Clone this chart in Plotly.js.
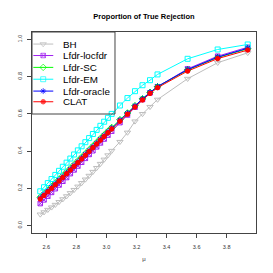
<!DOCTYPE html>
<html>
<head>
<meta charset="utf-8">
<script src="https://cdn.plot.ly/plotly-3.0.1.min.js"></script>
<style>html,body{margin:0;padding:0;background:#fff;}#chart{width:273px;height:273px;}</style>
</head>
<body>
<div id="chart"></div>
<script>
// mu values (x axis)
var mu = [2.56,2.585,2.61,2.635,2.66,2.685,2.71,2.735,2.76,2.785,2.81,2.835,2.86,2.885,2.91,2.935,2.96,2.985,3.01,3.035,3.09,3.14,3.19,3.24,3.29,3.34,3.54,3.74,3.94];
// proportion of true rejection per method
var BH      = [.060,.072,.085,.098,.112,.127,.142,.158,.175,.192,.210,.229,.248,.268,.289,.310,.332,.355,.378,.402,.450,.500,.560,.600,.638,.677,.789,.875,.928];
var LOCFDR  = [.118,.138,.158,.178,.198,.218,.238,.258,.279,.299,.320,.340,.361,.382,.402,.423,.444,.465,.486,.507,.553,.594,.636,.677,.713,.746,.842,.910,.958];
var SC      = [.152,.171,.190,.209,.228,.248,.267,.287,.307,.327,.347,.367,.387,.407,.427,.447,.468,.487,.507,.527,.569,.605,.644,.681,.716,.746,.836,.903,.950];
var EM      = [.184,.206,.228,.250,.272,.294,.316,.338,.360,.382,.404,.426,.448,.470,.492,.514,.536,.558,.579,.600,.645,.685,.722,.754,.781,.812,.896,.946,.973];
var ORACLE  = [.148,.167,.186,.205,.224,.244,.263,.283,.303,.323,.343,.363,.383,.403,.423,.443,.464,.484,.504,.524,.567,.604,.643,.681,.716,.747,.838,.905,.953];
var CLAT    = [.143,.162,.181,.200,.219,.239,.258,.278,.298,.318,.338,.358,.378,.398,.418,.438,.459,.479,.499,.519,.561,.598,.637,.675,.710,.741,.830,.897,.943];

var names = ["BH","Lfdr-locfdr","Lfdr-SC","Lfdr-EM","Lfdr-oracle","CLAT"];
var values = [BH, LOCFDR, SC, EM, ORACLE, CLAT];
var colors = ["#BEBEBE","#A020F0","#00FF00","#00FFFF","#0000FF","#FF0000"];
var symbols = ["triangle-down-open","square-x-open","diamond-open","square-open","asterisk-open","circle"];
var sizes = [5.5,4.5,5,5,5,4.5];
var xTicks = [2.6,2.8,3.0,3.2,3.4,3.6,3.8];
var yTicks = [0,0.2,0.4,0.6,0.8,1.0];

var FONT = "Liberation Sans, Arial, Helvetica, sans-serif";
var traces = [];
for (var i = 0; i < names.length; i++) {
  traces.push({
    x: mu, y: values[i], name: names[i], type: "scatter", mode: "lines+markers",
    line: {color: colors[i], width: 1},
    marker: {color: colors[i], symbol: symbols[i], size: sizes[i], line: {color: colors[i], width: 1}},
    showlegend: false, hoverinfo: "skip"
  });
}
// legend samples on an overlay axis with fixed [0,1] range
var rowY = [0.940,0.883,0.824,0.765,0.706,0.653];
var annotations = [];
for (var j = 0; j < names.length; j++) {
  traces.push({
    x: [0.006,0.05,0.095], y: [rowY[j],rowY[j],rowY[j]], xaxis: "x2", yaxis: "y2",
    type: "scatter", mode: "lines+markers",
    line: {color: colors[j], width: 1},
    marker: {color: colors[j], symbol: symbols[j], size: [0, sizes[j], 0], line: {color: colors[j], width: 1}},
    showlegend: false, hoverinfo: "skip"
  });
  annotations.push({
    xref: "paper", yref: "paper", x: 0.128, y: rowY[j], xanchor: "left", yanchor: "middle",
    text: names[j], showarrow: false, font: {family: FONT, size: 9.8, color: "#000"}
  });
}

var layout = {
  width: 273, height: 273,
  margin: {l: 32, r: 17, t: 32, b: 40, pad: 0},
  paper_bgcolor: "#fff", plot_bgcolor: "#fff",
  showlegend: false,
  title: {text: "<b>Proportion of True Rejection</b>", font: {family: FONT, size: 7.5, color: "#000"},
          xref: "paper", x: 0.5, xanchor: "center", yref: "container", y: 0.941, yanchor: "middle"},
  xaxis: {range: [2.505, 3.995], tickvals: xTicks, ticktext: xTicks.map(function(v){return v.toFixed(1);}),
          ticks: "outside", ticklen: 4, tickcolor: "#444", tickwidth: 1,
          showline: true, mirror: true, linecolor: "#444", linewidth: 1,
          showgrid: false, zeroline: false, ticklabelstandoff: 4,
          tickfont: {family: FONT, size: 5.5, color: "#333"},
          title: {text: "μ", font: {family: FONT, size: 6, color: "#333"}, standoff: 8}},
  yaxis: {range: [-0.04, 1.04], tickvals: yTicks, ticktext: yTicks.map(function(v){return v.toFixed(1);}),
          ticks: "outside", ticklen: 4, tickcolor: "#444", tickwidth: 1, tickangle: -90,
          showline: true, mirror: true, linecolor: "#444", linewidth: 1,
          showgrid: false, zeroline: false, ticklabelstandoff: 3,
          tickfont: {family: FONT, size: 5.5, color: "#333"}},
  xaxis2: {overlaying: "x", anchor: "y2", range: [0, 1], visible: false, fixedrange: true},
  yaxis2: {overlaying: "y", anchor: "x2", range: [0, 1], visible: false, fixedrange: true},
  shapes: [{type: "rect", xref: "paper", yref: "paper", x0: 0, x1: 0.3705, y0: 0.592, y1: 1,
            line: {color: "#444", width: 1}, fillcolor: "rgba(0,0,0,0)"}],
  annotations: annotations
};

Plotly.newPlot("chart", traces, layout, {staticPlot: true, displayModeBar: false});
</script>
</body>
</html>
